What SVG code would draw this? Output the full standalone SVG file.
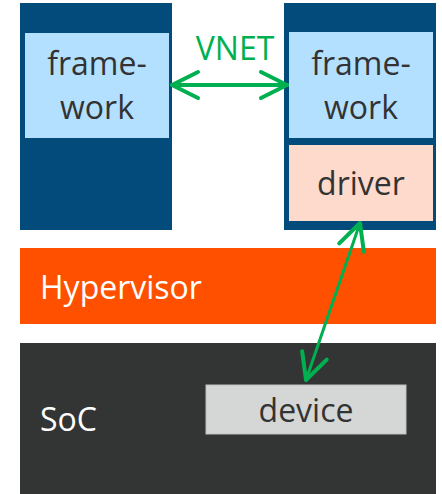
<svg xmlns="http://www.w3.org/2000/svg" width="442" height="494" viewBox="0 0 442 494">
  <style>
    .vm { fill: #034B7B; }
    .fw { fill: #B3E0FF; }
    .drv { fill: #FDDACC; }
    .lbl { font-family: "Open Sans", "Noto Sans", sans-serif; font-size: 32px; fill: #333333; text-anchor: middle; }
    .wlbl { font-family: "Open Sans", "Noto Sans", sans-serif; font-size: 32px; fill: #FFFFFF; }
    .link { stroke: #00B050; fill: none; stroke-linecap: round; }
  </style>
  <defs>
    <marker id="chev" markerUnits="userSpaceOnUse" viewBox="-30 -16 34 32" refX="0" refY="0" markerWidth="34" markerHeight="32" orient="auto-start-reverse">
      <path d="M -26 -13 L 0 0 L -26 13" fill="none" stroke="#00B050" stroke-width="4" stroke-linecap="round" stroke-linejoin="round"/>
    </marker>
  </defs>

  <rect width="442" height="494" fill="#FFFFFF"/>

  <!-- left virtual machine -->
  <g id="vm-left">
    <rect class="vm" x="20" y="3" width="152" height="227"/>
    <rect class="fw" x="25" y="33" width="144" height="105"/>
    <text class="lbl" x="97" y="75">frame-</text>
    <text class="lbl" x="97" y="119">work</text>
  </g>

  <!-- right virtual machine with driver -->
  <g id="vm-right">
    <rect class="vm" x="284" y="3" width="152" height="227"/>
    <rect class="fw" x="289" y="32" width="144" height="106"/>
    <text class="lbl" x="361" y="75">frame-</text>
    <text class="lbl" x="361" y="119">work</text>
    <rect class="drv" x="289" y="145" width="144" height="76"/>
    <text class="lbl" x="361" y="195">driver</text>
  </g>

  <!-- hypervisor layer -->
  <g id="hypervisor">
    <rect x="20" y="248" width="416" height="76" fill="#FF5000"/>
    <text class="wlbl" x="40" y="299">Hypervisor</text>
  </g>

  <!-- system on chip -->
  <g id="soc">
    <rect x="20" y="343" width="416" height="151" fill="#333434"/>
    <text class="wlbl" x="40" y="431">SoC</text>
  </g>

  <g id="device">
    <rect x="206" y="385" width="200" height="49" fill="#D5D7D6" stroke="#BFC1C0" stroke-width="1"/>
    <text class="lbl" x="306" y="422">device</text>
  </g>

  <!-- connectors -->
  <g id="connectors">
    <line class="link" x1="172" y1="85" x2="287" y2="85" stroke-width="4" marker-start="url(#chev)" marker-end="url(#chev)"/>
    <text x="235" y="60" font-family="Open Sans, Noto Sans, sans-serif" font-size="32" fill="#00B050" text-anchor="middle">VNET</text>
    <line class="link" x1="306" y1="380" x2="360" y2="223" stroke-width="3" marker-start="url(#chev)" marker-end="url(#chev)"/>
  </g>
</svg>
